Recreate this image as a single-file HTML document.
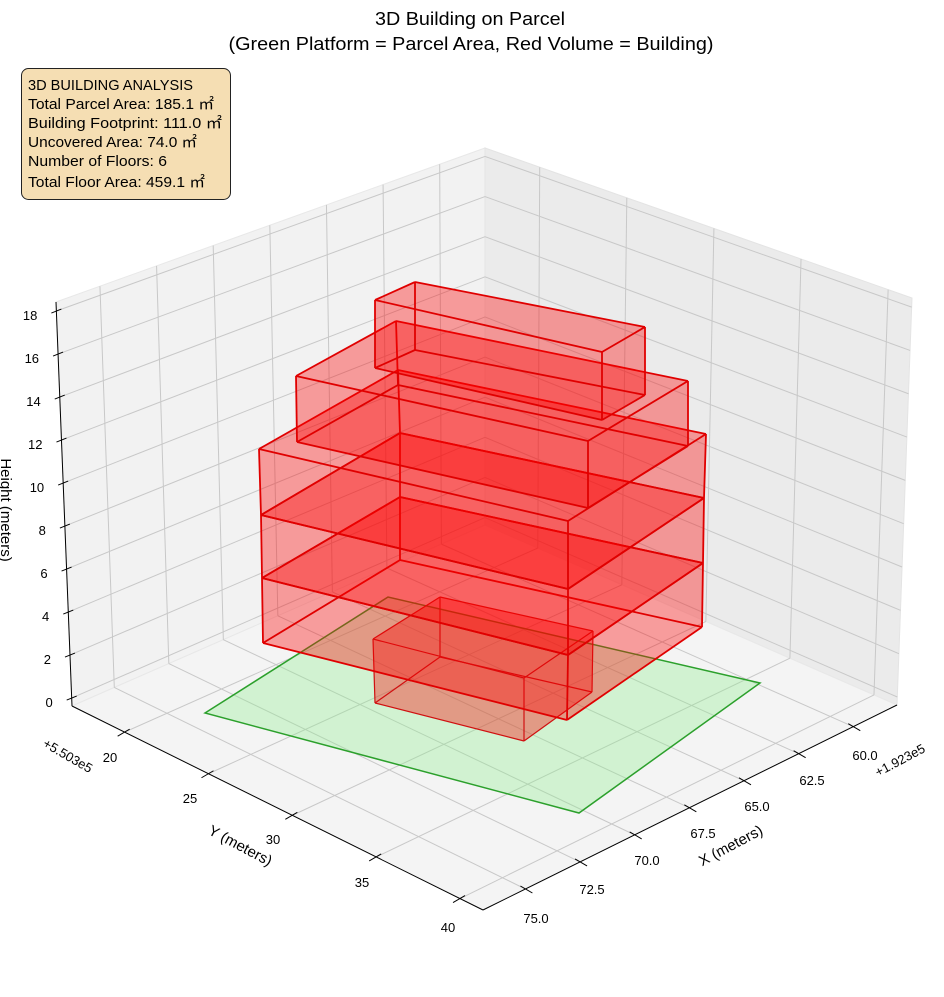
<!DOCTYPE html>
<html><head><meta charset="utf-8"><style>
html,body{margin:0;padding:0;background:#fff;}
svg text{font-family:"Liberation Sans","Noto Sans CJK JP",sans-serif;fill:#000;}
</style></head><body>
<svg id="s" width="944" height="992" xmlns="http://www.w3.org/2000/svg">
<g id="bg"></g>
<g id="grid"></g>
<polygon points="205,713 388,597 760,683 579,813" fill="rgba(144,238,144,0.35)" stroke="#2ca02c" stroke-width="1.5"/>
<g id="boxes"></g>
<g id="axes"></g>
<text x="470" y="25" text-anchor="middle" font-size="18" textLength="190" lengthAdjust="spacingAndGlyphs">3D Building on Parcel</text>
<text x="471" y="50" text-anchor="middle" font-size="18" textLength="485" lengthAdjust="spacingAndGlyphs">(Green Platform = Parcel Area, Red Volume = Building)</text>
<rect x="21.5" y="68.5" width="209" height="131" rx="7" fill="#f5deb3" stroke="#222" stroke-width="1"/>
<g font-size="15">
<text x="28" y="90" textLength="165" lengthAdjust="spacingAndGlyphs">3D BUILDING ANALYSIS</text>
<text x="28" y="109" textLength="186" lengthAdjust="spacingAndGlyphs">Total Parcel Area: 185.1 ㎡</text>
<text x="28" y="128" textLength="194" lengthAdjust="spacingAndGlyphs">Building Footprint: 111.0 ㎡</text>
<text x="28" y="147" textLength="169" lengthAdjust="spacingAndGlyphs">Uncovered Area: 74.0 ㎡</text>
<text x="28" y="166" textLength="139" lengthAdjust="spacingAndGlyphs">Number of Floors: 6</text>
<text x="28" y="187" textLength="177" lengthAdjust="spacingAndGlyphs">Total Floor Area: 459.1 ㎡</text>
</g>
</svg>
<script>
var NS="http://www.w3.org/2000/svg";
function el(p,t,a,txt){var e=document.createElementNS(NS,t);for(var k in a)e.setAttribute(k,a[k]);if(txt!==undefined)e.textContent=txt;document.getElementById(p).appendChild(e);return e;}
var C={"000":[485,525],"010":[897,705],"100":[72,706],"110":[483,910],
"001":[485,148],"011":[912,298],"101":[56,302],"111":[485,490]};
var X0=58.0,X1=76.94,Y0=16.86,Y1=41.37,Z0=-0.37,Z1=18.42;
function P(x,y,z){var u=(x-X0)/(X1-X0),v=(y-Y0)/(Y1-Y0),w=(z-Z0)/(Z1-Z0);var r=[0,0];
for(var a=0;a<2;a++)for(var b=0;b<2;b++)for(var c=0;c<2;c++){var f=(a?u:1-u)*(b?v:1-v)*(c?w:1-w);var q=C[""+a+b+c];r[0]+=f*q[0];r[1]+=f*q[1];}return r;}
function pts(a){return a.map(function(p){return p[0].toFixed(1)+","+p[1].toFixed(1)}).join(" ");}
el("bg","polygon",{points:pts([P(X0,Y0,Z0),P(X1,Y0,Z0),P(X1,Y0,Z1),P(X0,Y0,Z1)]),fill:"#f2f2f2",stroke:"#e8e8e8"});
el("bg","polygon",{points:pts([P(X0,Y0,Z0),P(X0,Y1,Z0),P(X0,Y1,Z1),P(X0,Y0,Z1)]),fill:"#ebebeb",stroke:"#e4e4e4"});
el("bg","polygon",{points:pts([P(X0,Y0,Z0),P(X1,Y0,Z0),P(X1,Y1,Z0),P(X0,Y1,Z0)]),fill:"#f4f4f4",stroke:"#e8e8e8"});
function L(g,a,b,st,w){el(g,"line",{x1:a[0],y1:a[1],x2:b[0],y2:b[1],stroke:st,"stroke-width":w||1});}
var gc="#c8c8c8";
for(var x=60;x<=75.01;x+=2.5){L("grid",P(x,Y0,Z0),P(x,Y0,Z1),gc);L("grid",P(x,Y0,Z0),P(x,Y1,Z0),gc);}
for(var y=20;y<=40;y+=5){L("grid",P(X0,y,Z0),P(X0,y,Z1),gc);L("grid",P(X0,y,Z0),P(X1,y,Z0),gc);}
for(var z=0;z<=18;z+=2){L("grid",P(X0,Y0,z),P(X1,Y0,z),gc);L("grid",P(X0,Y0,z),P(X0,Y1,z),gc);}
function box(T,B,sw,col){
 var faces=[B,T,[T[0],T[1],B[1],B[0]],[T[1],T[2],B[2],B[1]],[T[2],T[3],B[3],B[2]],[T[3],T[0],B[0],B[3]]];
 faces.forEach(function(f){el("boxes","polygon",{points:pts(f),fill:"rgba(255,0,0,0.2)",stroke:"none"});});
 var E=[[T[0],T[1]],[T[1],T[2]],[T[2],T[3]],[T[3],T[0]],[B[0],B[1]],[B[1],B[2]],[B[2],B[3]],[B[3],B[0]],[T[0],B[0]],[T[1],B[1]],[T[2],B[2]],[T[3],B[3]]];
 E.forEach(function(e){L("boxes",e[0],e[1],col||"#e00000",sw);});
}
box([[373,639],[440,597],[593,631],[524,678]],[[375,703],[440,657],[592,692],[524,741]],1.2,"#d01010");
box([[262,578],[400,497],[703,563],[568,655]],[[263,643],[400,560],[702,627],[567,720]],1.8);
box([[261,515],[400,433],[704,498],[568,589]],[[262,578],[400,497],[703,563],[568,655]],1.8);
box([[259,449],[398,370],[706,434],[568,521]],[[261,515],[400,433],[704,498],[568,589]],1.8);
box([[296,376],[396,321],[688,381],[588,441]],[[297,442],[398,385],[688,446],[588,508]],1.8);
box([[375,300],[415,282],[645,327],[602,352]],[[375,368],[415,350],[645,395],[602,420]],1.8);
L("axes",P(X1,Y0,Z0),P(X1,Y0,Z1),"#000",1);
L("axes",P(X1,Y0,Z0),P(X1,Y1,Z0),"#000",1);
L("axes",P(X1,Y1,Z0),P(X0,Y1,Z0),"#000",1);
for(var z=0;z<=18;z+=2){var p=P(X1,Y0,z);L("axes",[p[0]-5,p[1]+2],[p[0]+5,p[1]-2],"#000",1);
 el("axes","text",{x:p[0]-19,y:p[1]+9,"font-size":13,"text-anchor":"end"},""+z);}
var yl=[[20,110,757],[25,190,798],[30,273,839],[35,362,882],[40,448,927]];
yl.forEach(function(d){var p=P(X1,d[0],Z0);L("axes",[p[0]-7,p[1]+4],[p[0]+5,p[1]-3],"#000",1);
 el("axes","text",{x:d[1],y:d[2]+5,"font-size":13,"text-anchor":"middle"},""+d[0]);});
var xl=[[60,865,755],[62.5,812,780],[65,757,806],[67.5,703,833],[70,647,860],[72.5,592,889],[75,536,918]];
xl.forEach(function(d){var p=P(d[0],Y1,Z0);L("axes",[p[0]-5,p[1]-3],[p[0]+7,p[1]+4],"#000",1);
 el("axes","text",{x:d[1],y:d[2]+5,"font-size":13,"text-anchor":"middle"},d[0].toFixed(1));});
el("axes","text",{x:0,y:0,"font-size":13,transform:"translate(42,746) rotate(30)"},"+5.503e5");
el("axes","text",{x:0,y:0,"font-size":13,transform:"translate(878,777) rotate(-28)"},"+1.923e5");
el("axes","text",{x:0,y:0,"font-size":15,"text-anchor":"middle",transform:"translate(238,850) rotate(28)"},"Y (meters)");
el("axes","text",{x:0,y:0,"font-size":15,"text-anchor":"middle",transform:"translate(733,850) rotate(-28)"},"X (meters)");
el("axes","text",{x:0,y:0,"font-size":15,"text-anchor":"middle",transform:"translate(1,510) rotate(90)"},"Height (meters)");
</script>
</body></html>
